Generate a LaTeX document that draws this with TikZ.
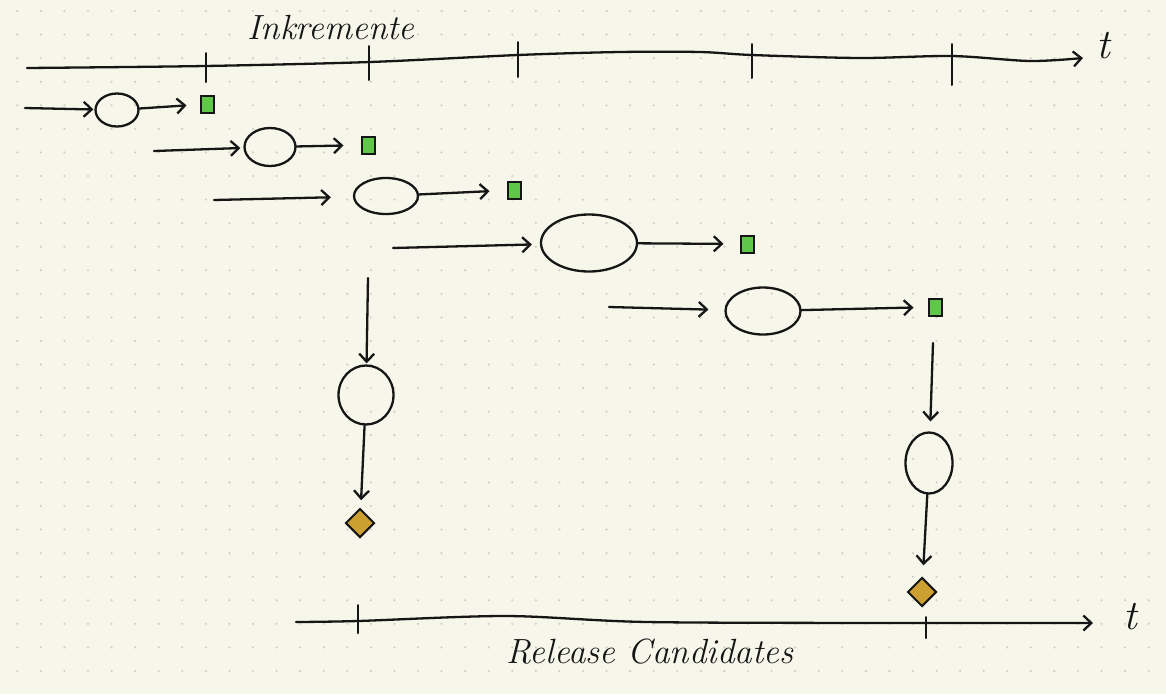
\documentclass[tikz,border=0pt]{standalone}
\usetikzlibrary{arrows.meta,shapes.geometric}
\definecolor{paper}{RGB}{247,246,235}
\definecolor{griddot}{RGB}{208,206,198}
\definecolor{incgreen}{RGB}{96,200,72}
\definecolor{rcgold}{RGB}{204,160,48}
\definecolor{ink}{RGB}{22,22,22}

\begin{document}
\begin{tikzpicture}[x=1pt, y=-1pt,
    pen/.style={draw=ink, line width=2.3pt, line cap=round, line join=round},
    arr/.style={pen, -{Straight Barb[length=8pt,width=15pt]}},
    blob/.style={pen, ellipse, inner sep=0pt},
    inc/.style={draw=ink, line width=2pt, fill=incgreen, inner sep=0pt, minimum width=13pt, minimum height=17pt},
    rc/.style={draw=ink, line width=2pt, fill=rcgold, diamond, inner sep=0pt, minimum size=29pt},
    tickmark/.style={draw=ink, line width=2pt, line cap=round},
    hand/.style={font=\fontsize{35}{42}\selectfont\itshape, text=ink},
    tlabel/.style={font=\fontsize{42}{42}\selectfont\itshape, text=ink}]

      % dotted paper
      \fill[paper] (0,0) rectangle (1166,694);
      \useasboundingbox (0,0) rectangle (1166,694);
      \foreach \i in {0,...,48}
        \foreach \j in {0,...,28}
          \fill[griddot] ({17.3+23.57*\i},{11+23.57*\j}) circle (1.2pt);

      % Increments axis
      \draw[arr] plot[smooth] coordinates {(27,68) (205,66) (370,62) (518,55) (620,52) (700,52) (752,55) (860,58) (952,56) (1030,61) (1083,58)};
      \foreach \x/\a/\b in {206/53/82, 369/46/80, 518/42/77, 752/44/78, 952/44/85}
        \draw[tickmark] (\x,\a) -- (\x,\b);
      \node[tlabel] (ttop) at (1103,46) {t};
      \node[hand] (inkr) at (331,28) {Inkremente};

      % Increment 1
      \coordinate (in1) at (25,108);
      \node[blob, minimum width=43pt, minimum height=33pt] (b1) at (117,110) {};
      \node[inc] (s1) at (207,104) {};
      \draw[arr, shorten >=1pt] (in1) -- (b1);
      \draw[arr, shorten >=13pt] (b1) -- (s1);

      % Increment 2
      \coordinate (in2) at (154,151);
      \node[blob, minimum width=51pt, minimum height=38pt] (b2) at (270,147) {};
      \node[inc] (s2) at (368,145) {};
      \draw[arr, shorten >=3pt] (in2) -- (b2);
      \draw[arr, shorten >=17pt] (b2) -- (s2);

      % Increment 3
      \coordinate (in3) at (214,200);
      \node[blob, minimum width=64pt, minimum height=36pt] (b3) at (386,196) {};
      \node[inc] (s3) at (514,190) {};
      \draw[arr, shorten >=22pt] (in3) -- (b3);
      \draw[arr, shorten >=17pt] (b3) -- (s3);

      % Increment 4
      \coordinate (in4) at (393,248);
      \node[blob, minimum width=96pt, minimum height=57pt] (b4) at (589,243) {};
      \node[inc] (s4) at (747,244) {};
      \draw[arr, shorten >=8pt] (in4) -- (b4);
      \draw[arr, shorten >=16pt] (b4) -- (s4);

      % Increment 5
      \coordinate (in5) at (609,307);
      \node[blob, minimum width=75pt, minimum height=47pt] (b5) at (763,311) {};
      \node[inc] (s5) at (935,307) {};
      \draw[arr, shorten >=16pt] (in5) -- (b5);
      \draw[arr, shorten >=14pt] (b5) -- (s5);

      % Release candidate 1
      \coordinate (dn1) at (368,278);
      \node[blob, minimum width=55pt, minimum height=59pt] (v1) at (366,395) {};
      \node[rc] (r1) at (360,523) {};
      \draw[arr, shorten >=1pt] (dn1) -- (v1);
      \draw[arr, shorten >=8pt] (v1) -- (r1);

      % Release candidate 2
      \coordinate (dn2) at (933,343);
      \node[blob, minimum width=47pt, minimum height=61pt] (v2) at (929,463) {};
      \node[rc] (r2) at (922,592) {};
      \draw[arr, shorten >=10pt] (dn2) -- (v2);
      \draw[arr, shorten >=12pt] (v2) -- (r2);

      % Release candidates axis
      \draw[arr] plot[smooth] coordinates {(296,622) (358,621) (506,616) (647,622) (901,623) (1093,623)};
      \foreach \x/\a/\b in {358/605/633, 926/617/638}
        \draw[tickmark] (\x,\a) -- (\x,\b);
      \node[tlabel] (tbot) at (1130,617) {t};
      \node[hand] (relc) at (650,652) {Release Candidates};
    \end{tikzpicture}
\end{document}
